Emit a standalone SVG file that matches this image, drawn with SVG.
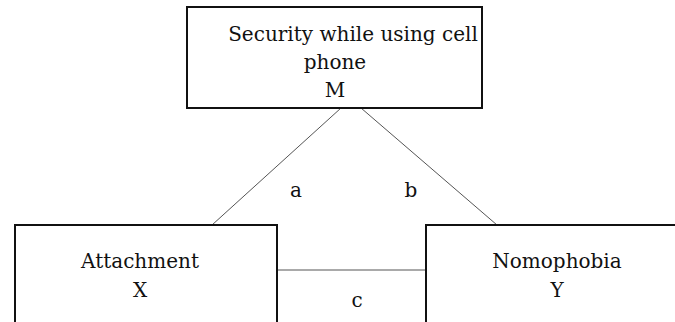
<svg xmlns="http://www.w3.org/2000/svg" width="675" height="322" viewBox="0 0 675 322">
<style>
.box{fill:#fff;stroke:#111;stroke-width:2}
.t{font-family:"DejaVu Serif","Liberation Serif",serif;font-size:20px;fill:#111;text-anchor:middle}
.c{stroke:#555;stroke-width:1;fill:none}
</style>
<rect width="675" height="322" fill="#fff"/>
<g id="connectors">
<line class="c" x1="341" y1="108" x2="212" y2="225"/>
<line class="c" x1="361" y1="108" x2="497" y2="225"/>
<line class="c" x1="277" y1="270" x2="426" y2="270"/>
<text class="t" x="296" y="197">a</text>
<text class="t" x="411" y="197">b</text>
<text class="t" x="357" y="307">c</text>
</g>
<g id="M">
<rect class="box" x="187" y="7" width="295" height="101"/>
<text class="t" x="353" y="41">Security while using cell</text>
<text class="t" x="335" y="69">phone</text>
<text class="t" x="335" y="97">M</text>
</g>
<g id="X">
<rect class="box" x="15" y="225" width="262" height="98"/>
<text class="t" x="140" y="268">Attachment</text>
<text class="t" x="140" y="297">X</text>
</g>
<g id="Y">
<rect class="box" x="426" y="225" width="250" height="98"/>
<text class="t" x="557" y="268">Nomophobia</text>
<text class="t" x="557" y="297">Y</text>
</g>
</svg>
